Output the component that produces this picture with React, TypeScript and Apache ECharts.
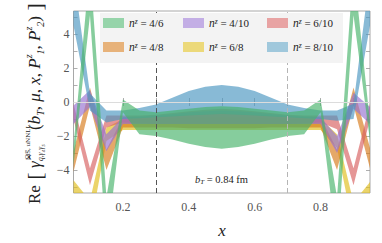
import React, { useEffect, useRef } from 'react';
import * as echarts from 'echarts';

// x positions of the computed points
const X = [0.05, 0.1, 0.15, 0.2, 0.25, 0.3, 0.35, 0.4, 0.45, 0.5, 0.55, 0.6, 0.65, 0.7, 0.75, 0.8, 0.85, 0.9, 0.95];

// n^z = 4/6 (green)
const G46_LO = [-3.7, 5.1, -8.5, -0.6, -1.9, -2.0, -2.2, -2.45, -2.65, -2.75, -2.65, -2.45, -2.2, -2.0, -1.9, -0.6, -8.5, 5.1, -2.3];
const G46_HI = [-2.6, 8.0, -5.6, 0.15, -0.5, -0.6, -0.5, -0.4, -0.3, -0.25, -0.3, -0.4, -0.5, -0.6, -0.5, 0.15, -5.6, 8.0, -1.2];
// n^z = 4/8 (orange)
const O48_LO = [-4.1, -0.2, -4.0, -1.5, -1.5, -1.5, -1.5, -1.55, -1.55, -1.55, -1.55, -1.55, -1.5, -1.5, -1.5, -1.5, -4.0, -0.2, -3.9];
const O48_HI = [-2.9, 0.85, -2.8, -0.9, -0.9, -0.85, -0.8, -0.75, -0.7, -0.65, -0.7, -0.75, -0.8, -0.85, -0.9, -0.9, -2.8, 0.85, -2.7];
// n^z = 4/10 (purple)
const P410_LO = [-1.3, -0.3, -2.9, -1.3, -1.3, -1.3, -1.3, -1.3, -1.3, -1.3, -1.3, -1.3, -1.3, -1.3, -1.3, -1.3, -3.0, -0.4, -1.3];
const P410_HI = [-0.2, 0.7, -1.9, -0.9, -0.85, -0.8, -0.7, -0.6, -0.55, -0.5, -0.55, -0.6, -0.7, -0.8, -0.85, -0.9, -2.0, 0.55, -0.3];
// n^z = 6/8 (yellow)
const Y68_LO = [-5.4, -7.5, -2.3, -1.65, -1.65, -1.65, -1.65, -1.65, -1.65, -1.65, -1.65, -1.65, -1.65, -1.65, -1.65, -1.65, -2.7, -7.5, -5.5];
const Y68_HI = [-4.6, -5.8, -1.5, -1.0, -1.0, -1.0, -0.95, -0.9, -0.9, -0.9, -0.9, -0.9, -0.95, -1.0, -1.0, -1.0, -1.9, -5.9, -4.7];
// n^z = 6/10 (red)
const R610_LO = [-1.0, -4.9, -1.5, -1.2, -1.25, -1.3, -1.3, -1.3, -1.3, -1.3, -1.3, -1.3, -1.3, -1.3, -1.25, -1.2, -1.6, -4.9, -1.0];
const R610_HI = [-0.1, -3.9, -0.8, -0.8, -0.8, -0.75, -0.65, -0.55, -0.45, -0.4, -0.45, -0.55, -0.65, -0.75, -0.8, -0.8, -0.8, -3.9, -0.1];
// n^z = 8/10 (blue)
const B810_LO = [4.5, -0.5, -1.2, -1.0, -0.95, -0.9, -0.85, -0.8, -0.75, -0.7, -0.75, -0.8, -0.85, -0.9, -0.95, -1.0, -1.1, -1.0, 4.5];
const B810_HI = [7.5, 0.5, -0.5, -0.5, -0.35, -0.15, 0.25, 0.65, 0.9, 1.0, 0.9, 0.65, 0.25, -0.15, -0.35, -0.5, -0.5, -0.1, 7.5];

const X_TICKS = [0.1, 0.2, 0.3, 0.4, 0.5, 0.6, 0.7, 0.8, 0.9];
const X_LABELS = [0.2, 0.4, 0.6, 0.8];
const Y_TICKS = [-5, -4, -3, -2, -1, 0, 1, 2, 3, 4, 5];
const Y_LABELS = [-4, -2, 0, 2, 4];
const V_LINES = [0.3, 0.7];

const SERIF = "'Liberation Serif', 'Times New Roman', serif";

export default function App() {
  const ref = useRef<HTMLDivElement>(null);
  useEffect(() => {
    document.body.style.margin = '0';
    const chart = echarts.init(ref.current!, undefined, { renderer: 'svg', width: 382, height: 243 });

    // drawing order: first is bottom
    const bands = [
      { name: '6/8', lo: Y68_LO, hi: Y68_HI, color: '#e0bd1c', legend: '#ecd97a' },
      { name: '4/8', lo: O48_LO, hi: O48_HI, color: '#d77b1c', legend: '#e7b27a' },
      { name: '6/10', lo: R610_LO, hi: R610_HI, color: '#d75f5f', legend: '#e8a3a3' },
      { name: '4/10', lo: P410_LO, hi: P410_HI, color: '#9772d2', legend: '#c3aee5' },
      { name: '8/10', lo: B810_LO, hi: B810_HI, color: '#4b97c1', legend: '#a0c8dc' },
      { name: '4/6', lo: G46_LO, hi: G46_HI, color: '#48b36a', legend: '#96d4aa' },
    ];
    const legendColor: Record<string, string> = {};
    bands.forEach((b) => (legendColor[b.name] = b.legend));

    const series: any[] = [];
    bands.forEach((b, bi) => {
      const s: any = {
        type: 'custom',
        name: b.name,
        clip: true,
        silent: true,
        z: 2 + bi * 0.01,
        itemStyle: { color: b.legend },
        data: X.map((x, i) => [x, b.lo[i], b.hi[i]]),
        encode: { x: 0, y: [1, 2] },
        renderItem: (params: any, api: any) => {
          if (params.dataIndex !== 0) return null;
          const n = params.dataInsideLength;
          const pts: number[][] = [];
          for (let i = 0; i < n; i++) pts.push(api.coord([api.value(0, i), api.value(2, i)]));
          for (let i = n - 1; i >= 0; i--) pts.push(api.coord([api.value(0, i), api.value(1, i)]));
          return { type: 'polygon', shape: { points: pts }, style: { fill: b.color, opacity: 0.66 } };
        },
      };
      if (bi === 0) {
        s.markLine = {
          silent: true,
          symbol: ['none', 'none'],
          label: { show: false },
          lineStyle: { color: '#dcdcdc', type: 'solid', width: 1 },
          data: [{ yAxis: 0 }],
        };
      }
      if (bi === bands.length - 1) {
        s.markLine = {
          silent: true,
          symbol: ['none', 'none'],
          label: { show: false },
          data: V_LINES.map((v, k) => ({
            xAxis: v,
            lineStyle: { color: k === 0 ? '#555555' : '#b5b5b5', type: [5, 3], width: 1 },
          })),
        };
      }
      series.push(s);
    });

    const legendText = {
      fontFamily: SERIF,
      fontSize: 11,
      color: '#222',
      lineHeight: 12,
      rich: {
        i: { fontFamily: SERIF, fontStyle: 'italic', fontSize: 11.5, lineHeight: 12, color: '#222' },
        s: { fontFamily: SERIF, fontStyle: 'italic', fontSize: 7.5, lineHeight: 8, verticalAlign: 'top', color: '#222' },
        t: { fontFamily: SERIF, fontSize: 11, lineHeight: 12, color: '#222' },
      },
    };
    const mkLegend = (left: number, names: string[]) => ({
      left,
      top: 17,
      orient: 'vertical',
      itemGap: 12,
      itemWidth: 21,
      itemHeight: 10,
      icon: 'rect',
      selectedMode: false,
      z: 20,
      padding: 0,
      data: names.map((n) => ({ name: n, icon: 'rect', itemStyle: { color: legendColor[n], borderWidth: 0 } })),
      formatter: (n: string) => `{i|n}{s|z}{t| = ${n}}`,
      textStyle: legendText,
    });

    const tickStyle = { show: true, inside: true, length: 4, lineStyle: { color: '#9a9a9a', width: 0.8 } };
    const labelStyle = { fontFamily: SERIF, fontSize: 12, color: '#555' };

    const scriptRich = {
      r: { fontFamily: SERIF, fontSize: 17, lineHeight: 22, fill: '#222' },
      i: { fontFamily: SERIF, fontStyle: 'italic', fontSize: 17, lineHeight: 22, fill: '#222' },
      sp: { fontFamily: SERIF, fontStyle: 'italic', fontSize: 10, lineHeight: 12, verticalAlign: 'top', fill: '#222' },
      sb: { fontFamily: SERIF, fontStyle: 'italic', fontSize: 10, lineHeight: 12, verticalAlign: 'bottom', fill: '#222' },
      bk: { fontFamily: SERIF, fontSize: 22, lineHeight: 22, fill: '#222' },
    };

    const option: any = {
      animation: false,
      grid: { left: 73.5, right: 12, top: 11, bottom: 50, show: true, borderColor: '#a8a8a8', borderWidth: 1, backgroundColor: 'transparent' },
      xAxis: [
        {
          type: 'value', min: 0.05, max: 0.95, position: 'bottom',
          axisLine: { show: false }, splitLine: { show: false },
          axisTick: { ...tickStyle, customValues: X_TICKS },
          axisLabel: { ...labelStyle, margin: 8, customValues: X_LABELS, formatter: (v: number) => v.toFixed(1) },
        },
        {
          type: 'value', min: 0.05, max: 0.95, position: 'top',
          axisLine: { show: false }, splitLine: { show: false },
          axisTick: { ...tickStyle, customValues: X_TICKS },
          axisLabel: { show: false },
        },
      ],
      yAxis: [
        {
          type: 'value', min: -5.35, max: 5.35, position: 'left',
          axisLine: { show: false }, splitLine: { show: false },
          axisTick: { ...tickStyle, customValues: Y_TICKS },
          axisLabel: { ...labelStyle, margin: 4, customValues: Y_LABELS, formatter: (v: number) => String(v).replace('-', '\u2212') },
        },
        {
          type: 'value', min: -5.35, max: 5.35, position: 'right',
          axisLine: { show: false }, splitLine: { show: false },
          axisTick: { ...tickStyle, customValues: Y_TICKS },
          axisLabel: { show: false },
        },
      ],
      legend: [
        mkLegend(103, ['4/6', '4/8']),
        mkLegend(183, ['4/10', '6/8']),
        mkLegend(267, ['6/10', '8/10']),
      ],
      graphic: [
        { type: 'rect', z: 10, silent: true, shape: { x: 100, y: 13, width: 243, height: 50 }, style: { fill: '#f3f3f3' } },
        {
          type: 'text', z: 12, silent: true, x: 221.5, y: 179,
          style: {
            text: '{i|b}{sb|T}{t| = 0.84 fm}', align: 'center', verticalAlign: 'middle',
            rich: {
              i: { fontFamily: SERIF, fontStyle: 'italic', fontSize: 10.5, lineHeight: 13, fill: '#222' },
              sb: { fontFamily: SERIF, fontStyle: 'italic', fontSize: 7, lineHeight: 8, verticalAlign: 'bottom', fill: '#222' },
              t: { fontFamily: SERIF, fontSize: 10.5, lineHeight: 13, fill: '#222' },
            },
          },
        },
        {
          type: 'text', z: 12, silent: true, x: 222, y: 230,
          style: { text: 'x', align: 'center', verticalAlign: 'middle', fontFamily: SERIF, fontStyle: 'italic', fontSize: 17, fill: '#222' },
        },
        {
          type: 'group', x: 34, y: 104, rotation: Math.PI / 2, silent: true,
          children: [
            {
              type: 'text', x: -100, y: 0,
              style: { text: '{r|Re}{bk| [}{r| }{i|\u03b3\u0302}', align: 'left', verticalAlign: 'middle', rich: scriptRich },
            },
            {
              type: 'text', x: -56, y: -6,
              style: { text: 'M\u0305S\u0305, uNNLL', align: 'left', verticalAlign: 'middle', fontFamily: SERIF, fontSize: 7, fill: '#222' },
            },
            {
              type: 'text', x: -57, y: 6,
              style: { text: 'q,\u03b3\u2084\u03b3\u2085', align: 'left', verticalAlign: 'middle', fontFamily: SERIF, fontStyle: 'italic', fontSize: 7.5, fill: '#222' },
            },
            {
              type: 'text', x: -26, y: 0,
              style: {
                text: '{r|(}{i|b}{sb|T}{r|, }{i|\u03bc}{r|, }{i|x}{r|, }{i|P}{sp|z}{sb|1}{r|, }{i|P}{sp|z}{sb|2}{r|)}{bk| ]}',
                align: 'left', verticalAlign: 'middle', rich: scriptRich,
              },
            },
          ],
        },
      ],
      series,
    };
    chart.setOption(option);
    return () => chart.dispose();
  }, []);
  return <div ref={ref} style={{ width: 382, height: 243 }} />;
}
